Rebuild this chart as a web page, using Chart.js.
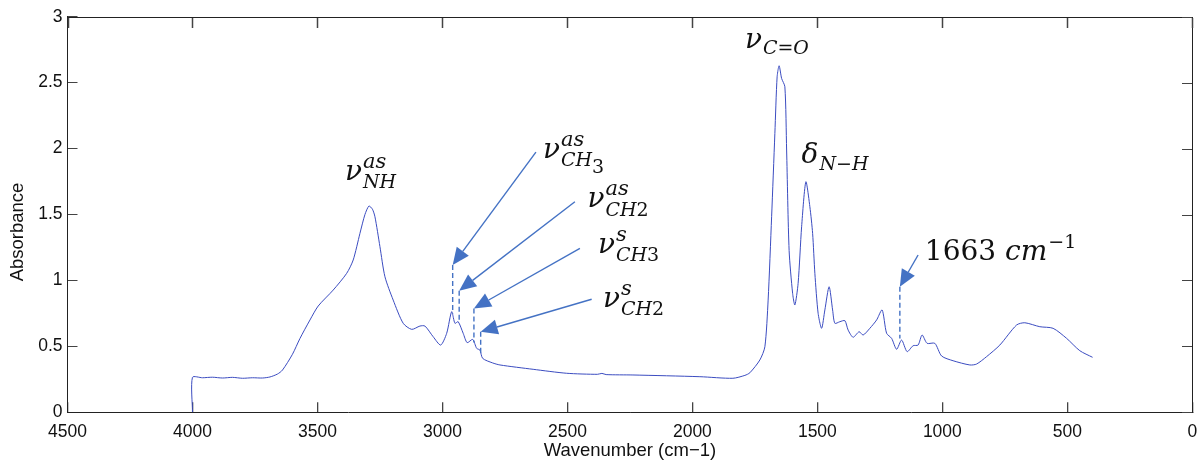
<!DOCTYPE html>
<html>
<head>
<meta charset="utf-8">
<script src="https://cdn.jsdelivr.net/npm/chart.js@4.4.1/dist/chart.umd.min.js"></script>
<style>
  html, body { margin: 0; padding: 0; background: #fff; }
  #wrap { width: 1201px; height: 462px; }
</style>
</head>
<body>
<div id="wrap"><canvas id="spectrum"></canvas></div>
<script>
// wavenumber (cm-1) and absorbance
const wavenumbers = [
  4000, 4000, 3960, 3920, 3880, 3840, 3800, 3760, 3720, 3690, 3660, 3640,
  3600, 3570, 3530, 3497, 3437, 3383, 3357, 3330, 3310, 3294, 3280, 3270,
  3250, 3230, 3197, 3157, 3123, 3090, 3070, 3037, 3007, 2983, 2963, 2950,
  2937, 2917, 2901, 2879, 2863, 2850, 2839, 2800, 2770, 2637, 2503, 2380,
  2362, 2345, 2238, 1970, 1838, 1790, 1770, 1730, 1710, 1697, 1683, 1670,
  1661, 1653, 1643, 1630, 1623, 1613, 1599, 1590, 1577, 1563, 1546, 1530,
  1519, 1510, 1497, 1483, 1470, 1453, 1439, 1430, 1410, 1390, 1377, 1357,
  1333, 1317, 1290, 1263, 1241, 1223, 1203, 1183, 1163, 1141, 1117, 1097,
  1081, 1061, 1030, 1003, 957, 890, 863, 823, 770, 703, 670, 610,
  557, 503, 450, 399
];
const absorbance = [
  0, 0.265, 0.262, 0.266, 0.26, 0.265, 0.258, 0.262, 0.26, 0.268, 0.29, 0.32,
  0.44, 0.56, 0.70, 0.806, 0.927, 1.054, 1.155, 1.357, 1.50, 1.564, 1.54, 1.483,
  1.256, 1.028, 0.851, 0.675, 0.629, 0.654, 0.654, 0.573, 0.51, 0.599, 0.763, 0.675,
  0.687, 0.599, 0.528, 0.553, 0.485, 0.472, 0.409, 0.375, 0.359, 0.326, 0.296, 0.288,
  0.295, 0.286, 0.283, 0.27, 0.258, 0.28, 0.30, 0.397, 0.497, 0.851, 1.483, 2.115,
  2.544, 2.628, 2.532, 2.469, 1.989, 1.227, 0.902, 0.814, 0.978, 1.407, 1.748, 1.559,
  1.357, 1.054, 0.751, 0.637, 0.776, 0.952, 0.776, 0.675, 0.687, 0.695, 0.624, 0.569,
  0.611, 0.586, 0.637, 0.70, 0.776, 0.599, 0.561, 0.478, 0.548, 0.46, 0.505, 0.51,
  0.586, 0.523, 0.523, 0.427, 0.391, 0.359, 0.366, 0.422, 0.51, 0.662, 0.679, 0.649,
  0.637, 0.561, 0.467, 0.417
];

const xTicks = [4500, 4000, 3500, 3000, 2500, 2000, 1500, 1000, 500, 0];
const xTickLabels = ["4500", "4000", "3500", "3000", "2500", "2000", "1500", "1000", "500", "0"];
const yTicks = [0, 0.5, 1, 1.5, 2, 2.5, 3];
const yTickLabels = ["0", "0.5", "1", "1.5", "2", "2.5", "3"];

// arrows: tail, tip, and where the dashed marker ends (data units)
const arrows = [
  { from: [2626, 1.973], to: [2959, 1.117], dashTo: 0.75 },
  { from: [2470, 1.597], to: [2933, 0.922], dashTo: 0.70 },
  { from: [2450, 1.243], to: [2874, 0.788], dashTo: 0.53 },
  { from: [2403, 0.857], to: [2847, 0.611], dashTo: 0.45 },
  { from: [1097, 1.193], to: [1170, 0.952], dashTo: 0.56 },
];

// peak labels; "stack" puts a segment under the previous one (sub below sup)
const peakLabels = [
  { at: [3390, 1.761], segs: [
    { t: "ν", s: 28 }, { t: "as", s: 21, dy: -12, gap: 1 }, { t: "NH", s: 19, dy: 8, stack: true } ] },
  { at: [2598, 1.93], segs: [
    { t: "ν", s: 28 }, { t: "as", s: 21, dy: -12, gap: 1 }, { t: "CH", s: 19, dy: 8, stack: true },
    { t: "3", s: 19, dy: 15, up: true } ] },
  { at: [2420, 1.56], segs: [
    { t: "ν", s: 28 }, { t: "as", s: 21, dy: -12, gap: 1 }, { t: "CH", s: 19, dy: 9, stack: true },
    { t: "2", s: 19, dy: 9, up: true } ] },
  { at: [2378, 1.205], segs: [
    { t: "ν", s: 28 }, { t: "s", s: 21, dy: -12, gap: 1 }, { t: "CH", s: 19, dy: 8, stack: true },
    { t: "3", s: 19, dy: 8, up: true } ] },
  { at: [2358, 0.80], segs: [
    { t: "ν", s: 28 }, { t: "s", s: 21, dy: -12, gap: 1 }, { t: "CH", s: 19, dy: 8, stack: true },
    { t: "2", s: 19, dy: 8, up: true } ] },
  { at: [1790, 2.76], segs: [
    { t: "ν", s: 28 }, { t: "C", s: 19, dy: 6, gap: 1 }, { t: "=", s: 19, dy: 6, up: true },
    { t: "O", s: 19, dy: 6 } ] },
  { at: [1563, 1.89], segs: [
    { t: "δ", s: 28 }, { t: "N", s: 19, dy: 7, gap: 1 }, { t: "−", s: 19, dy: 7, up: true },
    { t: "H", s: 19, dy: 7 } ] },
  { at: [1070, 1.155], segs: [
    { t: "1663 ", s: 28, up: true }, { t: "cm", s: 28 }, { t: "−1", s: 19, dy: -12, up: true, gap: 1 } ] },
];

const arrowBlue = "#4472c4";
const mathFont = '"DejaVu Serif"';
const axisFont = "Liberation Sans";

function drawSegments(ctx, x, y, segs) {
  let cx = x;
  let lastStart = x;
  for (const seg of segs) {
    ctx.font = `${seg.up ? "" : "italic "}${seg.s}px ${mathFont}`;
    const sx = seg.stack ? lastStart : cx + (seg.gap || 0);
    ctx.fillText(seg.t, sx, y + (seg.dy || 0));
    const ex = sx + ctx.measureText(seg.t).width;
    if (seg.stack) {
      cx = Math.max(cx, ex);
    } else {
      lastStart = sx;
      cx = ex;
    }
  }
}

function drawArrow(ctx, x0, y0, x1, y1) {
  const ang = Math.atan2(y1 - y0, x1 - x0);
  const len = 17, half = 7.5;
  const bx = x1 - len * Math.cos(ang), by = y1 - len * Math.sin(ang);
  ctx.beginPath();
  ctx.moveTo(x0, y0);
  ctx.lineTo(bx, by);
  ctx.stroke();
  ctx.beginPath();
  ctx.moveTo(x1, y1);
  ctx.lineTo(bx + half * Math.sin(ang), by - half * Math.cos(ang));
  ctx.lineTo(bx - half * Math.sin(ang), by + half * Math.cos(ang));
  ctx.closePath();
  ctx.fill();
}

const notes = {
  id: "notes",
  afterDraw(chart) {
    const ctx = chart.ctx;
    const a = chart.chartArea;
    const xs = chart.scales.x;
    const ys = chart.scales.y;
    ctx.save();

    // top and right sides of the box, with mirrored inward ticks
    const T = Math.round(a.top), R = Math.round(a.right);
    ctx.fillStyle = "#222";
    ctx.fillRect(Math.round(a.left), T, R - Math.round(a.left) + 1, 1);
    ctx.fillRect(R, T, 1, Math.round(a.bottom) - T + 1);
    ctx.fillStyle = "#444";
    for (let i = 0; i < xs.ticks.length; i++) {
      ctx.fillRect(Math.round(xs.getPixelForTick(i)) - 0.25, T + 1, 1.5, 10);
    }
    for (let i = 0; i < ys.ticks.length; i++) {
      ctx.fillRect(R - 10, Math.round(ys.getPixelForTick(i)), 10, 1);
    }

    // y axis title, placed as in the source figure
    ctx.save();
    ctx.translate(18, 232);
    ctx.rotate(-Math.PI / 2);
    ctx.fillStyle = "#111";
    ctx.font = `18.5px "${axisFont}"`;
    ctx.textAlign = "center";
    ctx.textBaseline = "middle";
    ctx.fillText("Absorbance", 0, 0);
    ctx.restore();

    // arrows and dashed markers
    ctx.strokeStyle = arrowBlue;
    ctx.fillStyle = arrowBlue;
    ctx.lineWidth = 1.4;
    arrows.forEach((ar) => {
      const x0 = xs.getPixelForValue(ar.from[0]), y0 = ys.getPixelForValue(ar.from[1]);
      const x1 = xs.getPixelForValue(ar.to[0]), y1 = ys.getPixelForValue(ar.to[1]);
      ctx.setLineDash([]);
      drawArrow(ctx, x0, y0, x1, y1);
      ctx.setLineDash([5, 3]);
      ctx.beginPath();
      ctx.moveTo(x1, y1);
      ctx.lineTo(x1, ys.getPixelForValue(ar.dashTo));
      ctx.stroke();
    });
    ctx.setLineDash([]);

    // peak labels
    ctx.fillStyle = "#111";
    ctx.textBaseline = "alphabetic";
    ctx.textAlign = "left";
    peakLabels.forEach((lab) => {
      drawSegments(ctx, xs.getPixelForValue(lab.at[0]), ys.getPixelForValue(lab.at[1]), lab.segs);
    });
    ctx.restore();
  },
};

// inward tick marks, drawn by the axes themselves (negative tick length)
const tickGrid = {
  display: true,
  drawOnChartArea: false,
  drawTicks: true,
  tickLength: -10,
  color: "#444",
  lineWidth: 1.3,
};
const frameBorder = { display: true, color: "#222", width: 1 };

new Chart(document.getElementById("spectrum"), {
  type: "line",
  data: {
    datasets: [
      {
        data: wavenumbers.map((w, i) => ({ x: w, y: absorbance[i] })),
        borderColor: "#3b4cc0",
        borderWidth: 1,
        pointRadius: 0,
        fill: false,
        tension: 0.25,
      },
    ],
  },
  options: {
    responsive: true,
    maintainAspectRatio: false,
    animation: false,
    events: [],
    layout: { padding: { top: 16.7, right: 8.7, bottom: 0, left: 0 } },
    plugins: { legend: { display: false }, tooltip: { enabled: false } },
    scales: {
      x: {
        type: "linear",
        position: "bottom",
        reverse: true,
        min: 0,
        max: 4500,
        afterBuildTicks: (s) => { s.ticks = xTicks.map((v) => ({ value: v })); },
        afterFit: (s) => {
          s.height = 49.7;
          s.paddingLeft = 0;
          s.paddingRight = 0;
        },
        grid: tickGrid,
        border: frameBorder,
        ticks: {
          autoSkip: false,
          maxRotation: 0,
          padding: 19,
          color: "#111",
          font: { family: axisFont, size: 17.5 },
          callback: (v) => xTickLabels[xTicks.indexOf(v)],
        },
        title: {
          display: true,
          text: "Wavenumber (cm\u22121)",
          color: "#111",
          font: { family: axisFont, size: 18.5 },
          padding: { top: 0, bottom: 0 },
        },
      },
      y: {
        position: "left",
        min: 0,
        max: 3,
        afterBuildTicks: (s) => { s.ticks = yTicks.map((v) => ({ value: v })); },
        afterFit: (s) => {
          s.width = 67.5;
          s.paddingTop = 0;
          s.paddingBottom = 0;
        },
        grid: { ...tickGrid, lineWidth: 1 },
        border: frameBorder,
        ticks: {
          padding: 15,
          color: "#111",
          font: { family: axisFont, size: 17.5 },
          callback: (v) => yTickLabels[yTicks.indexOf(v)],
        },
        title: { display: false },
      },
    },
  },
  plugins: [notes],
});
</script>
</body>
</html>
